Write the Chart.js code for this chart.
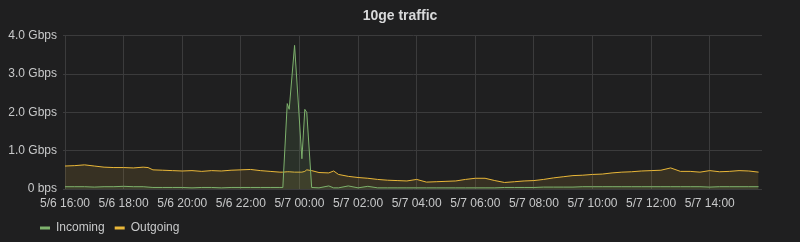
<!DOCTYPE html>
<html>
<head>
<meta charset="utf-8">
<script src="https://cdn.jsdelivr.net/npm/chart.js@4"></script>
<style>
  html, body { margin: 0; padding: 0; background: #1f1f20; }
  #wrap { width: 800px; height: 242px; }
</style>
</head>
<body>
<div id="wrap"><canvas id="trafficChart"></canvas></div>
<script>
// minutes since 5/6 16:00
const minutes = [0, 20, 40, 60, 80, 100, 120, 140, 160, 170, 180, 200, 220, 240, 260, 280, 300, 320, 340, 360,
  380, 400, 420, 440, 446, 455, 459, 470, 485, 491, 495, 505, 520, 540, 550, 560, 580, 600, 620, 640,
  660, 680, 700, 720, 740, 760, 780, 800, 820, 840, 860, 880, 900, 920, 940, 960, 980, 1000, 1020, 1040,
  1060, 1080, 1100, 1120, 1140, 1160, 1180, 1200, 1220, 1240, 1260, 1280, 1300, 1320, 1340, 1360, 1380, 1400, 1420];

// Gbps
const incoming = [0.06, 0.06, 0.06, 0.05, 0.06, 0.06, 0.07, 0.06, 0.06, 0.05, 0.04, 0.04, 0.04, 0.04, 0.03, 0.04, 0.04, 0.03, 0.04, 0.04,
  0.04, 0.04, 0.04, 0.04, 0.04, 2.23, 2.08, 3.75, 0.79, 2.08, 2.00, 0.04, 0.03, 0.08, 0.03, 0.03, 0.08, 0.03, 0.07, 0.03,
  0.03, 0.03, 0.03, 0.03, 0.03, 0.03, 0.03, 0.03, 0.03, 0.03, 0.03, 0.03, 0.04, 0.04, 0.04, 0.04, 0.05, 0.05, 0.05, 0.05,
  0.06, 0.06, 0.06, 0.06, 0.06, 0.06, 0.06, 0.06, 0.06, 0.06, 0.06, 0.06, 0.06, 0.05, 0.06, 0.06, 0.06, 0.06, 0.06];

const outgoing = [0.60, 0.61, 0.63, 0.60, 0.57, 0.56, 0.56, 0.55, 0.57, 0.56, 0.50, 0.49, 0.48, 0.47, 0.48, 0.46, 0.48, 0.47, 0.49, 0.50,
  0.51, 0.48, 0.46, 0.44, 0.44, 0.45, 0.45, 0.44, 0.44, 0.46, 0.50, 0.48, 0.43, 0.42, 0.47, 0.38, 0.33, 0.30, 0.28, 0.25,
  0.23, 0.22, 0.21, 0.25, 0.18, 0.19, 0.20, 0.21, 0.25, 0.28, 0.28, 0.22, 0.17, 0.19, 0.21, 0.22, 0.25, 0.29, 0.32, 0.35,
  0.36, 0.38, 0.39, 0.42, 0.44, 0.45, 0.47, 0.48, 0.49, 0.55, 0.46, 0.46, 0.44, 0.48, 0.45, 0.46, 0.48, 0.47, 0.44];

const xTicks = [0, 120, 240, 360, 480, 600, 720, 840, 960, 1080, 1200, 1320];
const yTicks = [0, 1, 2, 3, 4];
const xMax = 1427;

function timeLabel(m) {
  const h = 16 + m / 60;
  const day = 6 + Math.floor(h / 24);
  const hh = String(Math.floor(h % 24)).padStart(2, '0');
  return '5/' + day + ' ' + hh + ':00';
}

const textColor = '#c8c9ca';
const gridColor = '#3b3b3c';
const fontFamily = 'Liberation Sans, Arial, sans-serif';

// nudge title to page centre and legend to the right like the panel
const panelTweaks = {
  id: 'panelTweaks',
  afterLayout(chart) {
    if (chart.titleBlock) chart.titleBlock.right += 38;
    if (chart.legend) {
      chart.legend.left += 30;
      chart.legend.right += 30;
      chart.legend.top += 2;
      chart.legend.bottom += 2;
    }
  }
};

const ctx = document.getElementById('trafficChart').getContext('2d');
new Chart(ctx, {
  type: 'line',
  data: {
    datasets: [{
      label: 'Incoming',
      data: minutes.map((m, i) => ({ x: m, y: incoming[i] })),
      borderColor: '#7eb26d',
      backgroundColor: 'rgba(126, 178, 109, 0.12)',
      borderWidth: 1,
      pointRadius: 0,
      fill: 'origin'
    }, {
      label: 'Outgoing',
      data: minutes.map((m, i) => ({ x: m, y: outgoing[i] })),
      borderColor: '#eab839',
      backgroundColor: 'rgba(234, 184, 57, 0.12)',
      borderWidth: 1,
      pointRadius: 0,
      fill: 'origin'
    }]
  },
  plugins: [panelTweaks],
  options: {
    responsive: true,
    maintainAspectRatio: false,
    animation: false,
    layout: { padding: { left: 0, right: 38, top: 0, bottom: 0 } },
    plugins: {
      title: {
        display: true,
        text: '10ge traffic',
        color: '#d8d9da',
        font: { family: fontFamily, size: 14, weight: 'bold' },
        padding: { top: 8, bottom: 11 }
      },
      legend: {
        position: 'bottom',
        align: 'start',
        labels: {
          color: textColor,
          font: { family: fontFamily, size: 12 },
          boxWidth: 10,
          boxHeight: 3,
          padding: 10,
          generateLabels: chart => chart.data.datasets.map((ds, i) => ({
            text: ds.label,
            fillStyle: ds.borderColor,
            strokeStyle: ds.borderColor,
            lineWidth: 0,
            fontColor: textColor,
            datasetIndex: i
          }))
        }
      },
      tooltip: { enabled: false }
    },
    scales: {
      x: {
        type: 'linear',
        min: 0,
        max: xMax,
        afterBuildTicks: scale => {
          scale.ticks = xTicks.map(v => ({ value: v }));
        },
        afterFit: scale => { scale.height = 21; },
        ticks: {
          color: textColor,
          maxRotation: 0,
          autoSkip: false,
          padding: 7,
          font: { family: fontFamily, size: 12 },
          callback: v => timeLabel(v)
        },
        grid: { color: gridColor, tickLength: 0 },
        border: { display: false }
      },
      y: {
        min: 0,
        max: 4,
        afterBuildTicks: scale => {
          scale.ticks = yTicks.map(v => ({ value: v }));
        },
        afterFit: scale => { scale.width = 65; },
        ticks: {
          color: textColor,
          padding: 6,
          font: { family: fontFamily, size: 12 },
          callback: v => v === 0 ? '0 bps' : v.toFixed(1) + ' Gbps'
        },
        grid: { color: gridColor, tickLength: 2 },
        border: { display: false }
      }
    }
  }
});
</script>
</body>
</html>
